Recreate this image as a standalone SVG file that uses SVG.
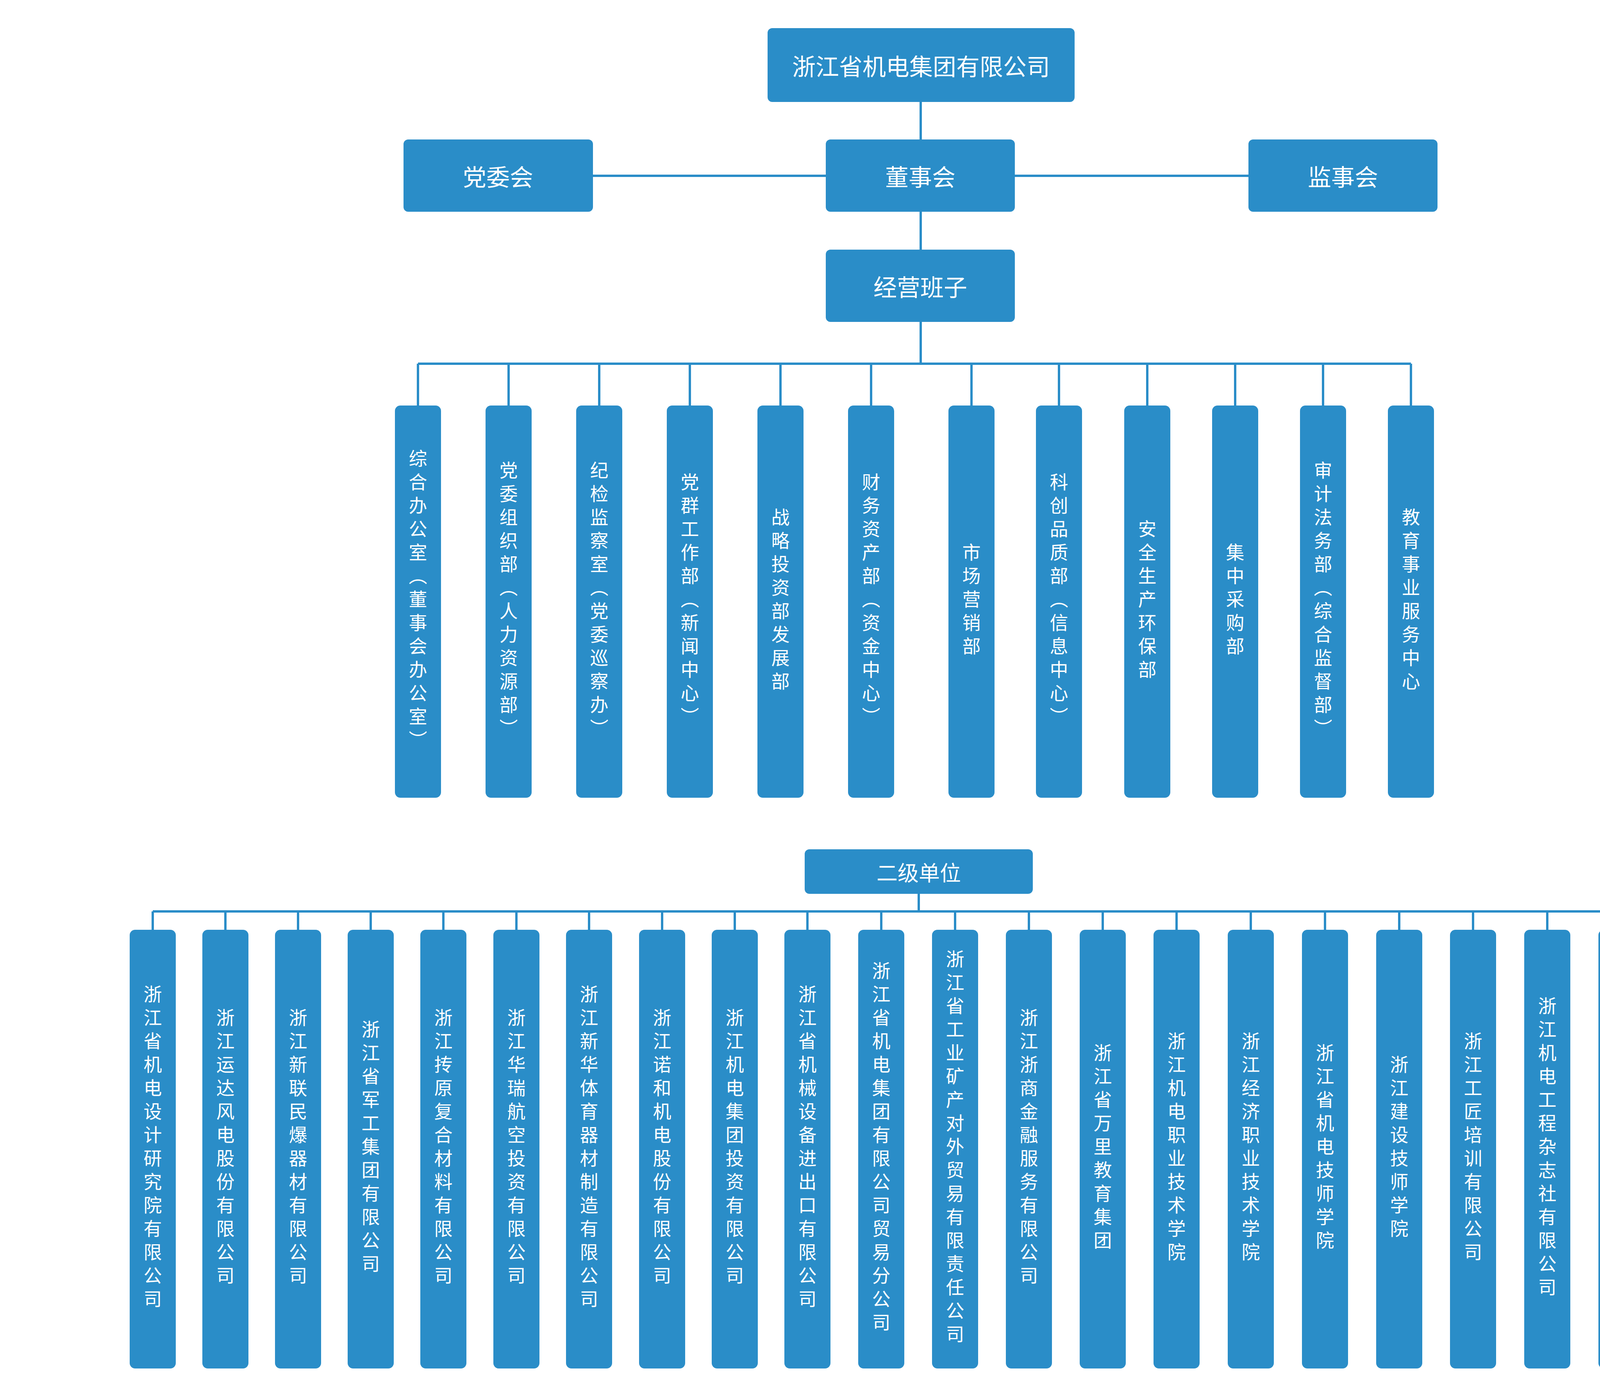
<svg xmlns="http://www.w3.org/2000/svg" width="4941" height="3576" viewBox="0 0 4941 3576">
<style>
.box{fill:#2A8DC8}
.ln{stroke:#2A8DC8;stroke-width:6;fill:none}
.h{fill:#fff;font-family:"Noto Sans CJK SC","Noto Sans",sans-serif;font-size:60px;text-anchor:middle;dominant-baseline:central}
.h2{font-size:54px}
.v{fill:#fff;font-family:"Noto Sans CJK SC","Noto Sans",sans-serif;font-size:47px;writing-mode:vertical-rl;text-anchor:middle;letter-spacing:13px}
</style>
<rect width="4941" height="3576" fill="#fff"/>
<g id="connectors">
<path class="ln" d="M2357 261V357M2357 542V639M1518 450H2114M2598 450H3196M2357 824V931M1070 931H3612"/>
<path class="ln" d="M1070 931V1038M1302 931V1038M1534 931V1038M1766 931V1038M1998 931V1038M2230 931V1038M2487 931V1038M2711 931V1038M2937 931V1038M3162 931V1038M3387 931V1038M3612 931V1038"/>
<path class="ln" d="M2352 2288V2333M391 2333H4532"/>
<path class="ln" d="M391 2333V2380M577 2333V2380M763 2333V2380M949 2333V2380M1135 2333V2380M1322 2333V2380M1508 2333V2380M1695 2333V2380M1881 2333V2380M2067 2333V2380M2256 2333V2380M2445 2333V2380M2634 2333V2380M2823 2333V2380M3012 2333V2380M3202 2333V2380M3392 2333V2380M3582 2333V2380M3771 2333V2380M3961 2333V2380M4151 2333V2380M4341 2333V2380M4532 2333V2380"/>
</g>
<g id="n-top"><rect class="box" x="1965" y="72" width="786" height="189" rx="12"/><text class="h" x="2358" y="166">浙江省机电集团有限公司</text></g>
<g id="n-dangwei"><rect class="box" x="1033" y="357" width="485" height="185" rx="12"/><text class="h" x="1275" y="449">党委会</text></g>
<g id="n-dongshi"><rect class="box" x="2114" y="357" width="484" height="185" rx="12"/><text class="h" x="2356" y="449">董事会</text></g>
<g id="n-jianshi"><rect class="box" x="3196" y="357" width="484" height="185" rx="12"/><text class="h" x="3438" y="449">监事会</text></g>
<g id="n-jingying"><rect class="box" x="2114" y="639" width="484" height="185" rx="12"/><text class="h" x="2356" y="731">经营班子</text></g>

<g id="d1"><rect class="box" x="1011" y="1038" width="118" height="1004" rx="14"/><text class="v" x="1070" y="1540">综合办公室（董事会办公室）</text></g>
<g id="d2"><rect class="box" x="1243" y="1038" width="118" height="1004" rx="14"/><text class="v" x="1302" y="1540">党委组织部（人力资源部）</text></g>
<g id="d3"><rect class="box" x="1475" y="1038" width="118" height="1004" rx="14"/><text class="v" x="1534" y="1540">纪检监察室（党委巡察办）</text></g>
<g id="d4"><rect class="box" x="1707" y="1038" width="118" height="1004" rx="14"/><text class="v" x="1766" y="1540">党群工作部（新闻中心）</text></g>
<g id="d5"><rect class="box" x="1939" y="1038" width="118" height="1004" rx="14"/><text class="v" x="1998" y="1540">战略投资部发展部</text></g>
<g id="d6"><rect class="box" x="2171" y="1038" width="118" height="1004" rx="14"/><text class="v" x="2230" y="1540">财务资产部（资金中心）</text></g>
<g id="d7"><rect class="box" x="2428" y="1038" width="118" height="1004" rx="14"/><text class="v" x="2487" y="1540">市场营销部</text></g>
<g id="d8"><rect class="box" x="2652" y="1038" width="118" height="1004" rx="14"/><text class="v" x="2711" y="1540">科创品质部（信息中心）</text></g>
<g id="d9"><rect class="box" x="2878" y="1038" width="118" height="1004" rx="14"/><text class="v" x="2937" y="1540">安全生产环保部</text></g>
<g id="d10"><rect class="box" x="3103" y="1038" width="118" height="1004" rx="14"/><text class="v" x="3162" y="1540">集中采购部</text></g>
<g id="d11"><rect class="box" x="3328" y="1038" width="118" height="1004" rx="14"/><text class="v" x="3387" y="1540">审计法务部（综合监督部）</text></g>
<g id="d12"><rect class="box" x="3553" y="1038" width="118" height="1004" rx="14"/><text class="v" x="3612" y="1540">教育事业服务中心</text></g>

<g id="n-erji"><rect class="box" x="2060" y="2174" width="584" height="114" rx="12"/><text class="h h2" x="2352" y="2231">二级单位</text></g>

<g id="u1"><rect class="box" x="332" y="2380" width="118" height="1123" rx="14"/><text class="v" x="391" y="2941">浙江省机电设计研究院有限公司</text></g>
<g id="u2"><rect class="box" x="518" y="2380" width="118" height="1123" rx="14"/><text class="v" x="577" y="2941">浙江运达风电股份有限公司</text></g>
<g id="u3"><rect class="box" x="704" y="2380" width="118" height="1123" rx="14"/><text class="v" x="763" y="2941">浙江新联民爆器材有限公司</text></g>
<g id="u4"><rect class="box" x="890" y="2380" width="118" height="1123" rx="14"/><text class="v" x="949" y="2941">浙江省军工集团有限公司</text></g>
<g id="u5"><rect class="box" x="1076" y="2380" width="118" height="1123" rx="14"/><text class="v" x="1135" y="2941">浙江抟原复合材料有限公司</text></g>
<g id="u6"><rect class="box" x="1263" y="2380" width="118" height="1123" rx="14"/><text class="v" x="1322" y="2941">浙江华瑞航空投资有限公司</text></g>
<g id="u7"><rect class="box" x="1449" y="2380" width="118" height="1123" rx="14"/><text class="v" x="1508" y="2941">浙江新华体育器材制造有限公司</text></g>
<g id="u8"><rect class="box" x="1636" y="2380" width="118" height="1123" rx="14"/><text class="v" x="1695" y="2941">浙江诺和机电股份有限公司</text></g>
<g id="u9"><rect class="box" x="1822" y="2380" width="118" height="1123" rx="14"/><text class="v" x="1881" y="2941">浙江机电集团投资有限公司</text></g>
<g id="u10"><rect class="box" x="2008" y="2380" width="118" height="1123" rx="14"/><text class="v" x="2067" y="2941">浙江省机械设备进出口有限公司</text></g>
<g id="u11"><rect class="box" x="2197" y="2380" width="118" height="1123" rx="14"/><text class="v" x="2256" y="2941">浙江省机电集团有限公司贸易分公司</text></g>
<g id="u12"><rect class="box" x="2386" y="2380" width="118" height="1123" rx="14"/><text class="v" x="2445" y="2941">浙江省工业矿产对外贸易有限责任公司</text></g>
<g id="u13"><rect class="box" x="2575" y="2380" width="118" height="1123" rx="14"/><text class="v" x="2634" y="2941">浙江浙商金融服务有限公司</text></g>
<g id="u14"><rect class="box" x="2764" y="2380" width="118" height="1123" rx="14"/><text class="v" x="2823" y="2941">浙江省万里教育集团</text></g>
<g id="u15"><rect class="box" x="2953" y="2380" width="118" height="1123" rx="14"/><text class="v" x="3012" y="2941">浙江机电职业技术学院</text></g>
<g id="u16"><rect class="box" x="3143" y="2380" width="118" height="1123" rx="14"/><text class="v" x="3202" y="2941">浙江经济职业技术学院</text></g>
<g id="u17"><rect class="box" x="3333" y="2380" width="118" height="1123" rx="14"/><text class="v" x="3392" y="2941">浙江省机电技师学院</text></g>
<g id="u18"><rect class="box" x="3523" y="2380" width="118" height="1123" rx="14"/><text class="v" x="3582" y="2941">浙江建设技师学院</text></g>
<g id="u19"><rect class="box" x="3712" y="2380" width="118" height="1123" rx="14"/><text class="v" x="3771" y="2941">浙江工匠培训有限公司</text></g>
<g id="u20"><rect class="box" x="3902" y="2380" width="118" height="1123" rx="14"/><text class="v" x="3961" y="2941">浙江机电工程杂志社有限公司</text></g>
<g id="u21"><rect class="box" x="4092" y="2380" width="118" height="1123" rx="14"/><text class="v" x="4151" y="2941">浙江康宁咨询服务有限公司</text></g>
<g id="u22"><rect class="box" x="4282" y="2380" width="118" height="1123" rx="14"/><text class="v" x="4341" y="2941">浙江蓝箭称重技术有限公司</text></g>
<g id="u23"><rect class="box" x="4473" y="2380" width="118" height="1123" rx="14"/><text class="v" x="4532" y="2941">贸易事业部</text></g>
</svg>
